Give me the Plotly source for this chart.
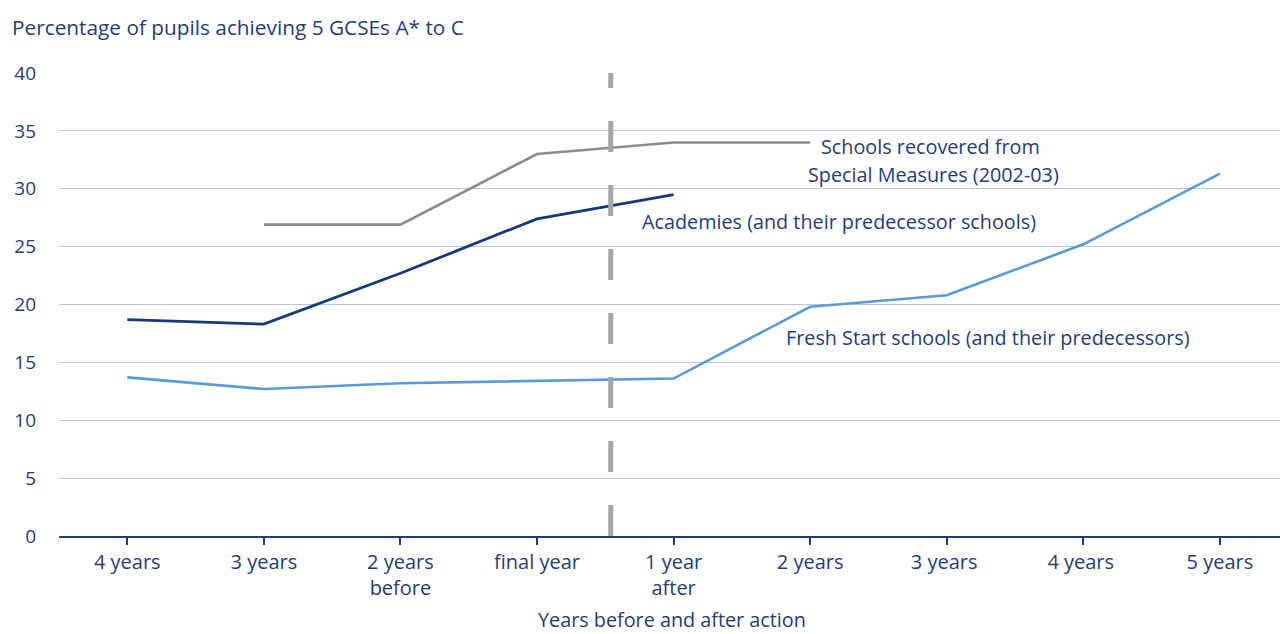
import plotly.graph_objects as go

# Category positions along the x axis
categories = ["4 years", "3 years", "2 years<br>before", "final year", "1 year<br>after",
              "2 years", "3 years ", "4 years ", "5 years"]
x_idx = list(range(len(categories)))

# Percentage of pupils achieving 5 GCSEs A* to C
academies = [18.7, 18.3, 22.7, 27.4, 29.5, None, None, None, None]
special_measures = [None, 26.9, 26.9, 33.0, 34.0, 34.0, None, None, None]
fresh_start = [13.7, 12.7, 13.2, 13.4, 13.6, 19.8, 20.8, 25.2, 31.3]

y_ticks = [0, 5, 10, 15, 20, 25, 30, 35, 40]

NAVY = "#1f3d7a"
FONT = "Open Sans"

fig = go.Figure()
fig.add_trace(go.Scatter(x=x_idx, y=special_measures, mode="lines",
                         line=dict(color="#8c8c8c", width=2.6), hoverinfo="skip"))
fig.add_trace(go.Scatter(x=x_idx, y=academies, mode="lines",
                         line=dict(color="#163a78", width=2.8), hoverinfo="skip"))
fig.add_trace(go.Scatter(x=x_idx, y=fresh_start, mode="lines",
                         line=dict(color="#5b9bd5", width=2.6), hoverinfo="skip"))

# Dashed divider between "before" and "after" years
fig.add_shape(type="line", xref="x", yref="y", x0=3.54, x1=3.54, y0=0, y1=40,
              line=dict(color="#a6a6a6", width=5, dash="31px,33px"), layer="above")

ann_font = dict(family=FONT, size=19.8, color=NAVY)
fig.add_annotation(x=5.88, y=33.64, text="Schools recovered from",
                   showarrow=False, font=ann_font, xanchor="center", yanchor="middle")
fig.add_annotation(x=5.90, y=31.21, text="Special Measures (2002-03)",
                   showarrow=False, font=ann_font, xanchor="center", yanchor="middle")
fig.add_annotation(x=5.21, y=27.14, text="Academies (and their predecessor schools)",
                   showarrow=False, font=ann_font, xanchor="center", yanchor="middle")
fig.add_annotation(x=6.30, y=17.19, text="Fresh Start schools (and their predecessors)",
                   showarrow=False, font=ann_font, xanchor="center", yanchor="middle")

# Axis titles
fig.add_annotation(xref="paper", yref="paper", x=-0.0401, y=1.0995, xanchor="left",
                   yanchor="middle", text="Percentage of pupils achieving 5 GCSEs A* to C",
                   showarrow=False, font=dict(family=FONT, size=20.8, color=NAVY))
fig.add_annotation(xref="paper", yref="paper", x=0.502, y=-0.2140, xanchor="center",
                   yanchor="bottom", text="Years before and after action",
                   showarrow=False, font=ann_font)

fig.update_layout(
    width=1280, height=634,
    margin=dict(l=59, r=0, t=73, b=98),
    paper_bgcolor="white", plot_bgcolor="white",
    showlegend=False,
    font=dict(family=FONT, size=20, color=NAVY),
    xaxis=dict(range=[-0.5, 8.44], tickmode="array", tickvals=x_idx, ticktext=categories,
               showgrid=False, zeroline=False, showline=True, linecolor=NAVY, linewidth=1.5,
               ticks="outside", ticklen=7, tickcolor=NAVY, tickwidth=1.5,
               tickfont=dict(family=FONT, size=20, color=NAVY)),
    yaxis=dict(range=[0, 40], tickmode="array", tickvals=y_ticks,
               showgrid=True, gridcolor="#b9c6dd", gridwidth=1.2, zeroline=False,
               showline=False, ticks="", ticklabelstandoff=22,
               tickfont=dict(family=FONT, size=19, color=NAVY)),
)

fig.write_html("out.html")
